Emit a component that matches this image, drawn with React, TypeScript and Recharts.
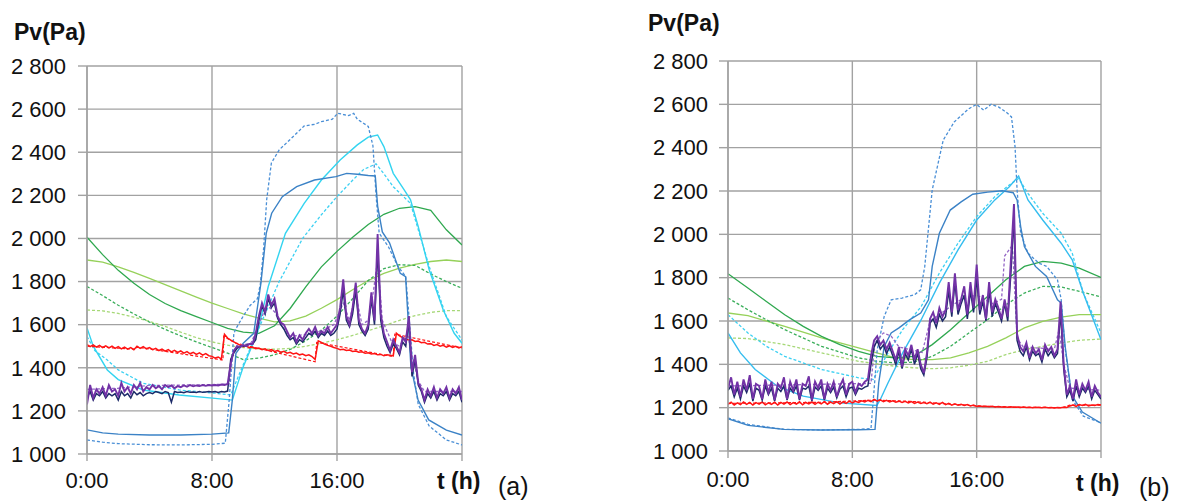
import { LineChart, Line, XAxis, YAxis, CartesianGrid } from "recharts";

type Pt = [number, number];

// logged series are sampled every 0.2 h, 0:00 -> 24:00 (121 values)
const STEP = 0.2;
const X_TICKS = [0, 8, 16, 24];
const Y_TICKS = [1000, 1200, 1400, 1600, 1800, 2000, 2200, 2400, 2600, 2800];

// ---------- panel (a) ----------
const A_BLUE_DASH: Pt[] = [[0,1065],[1,1055],[2,1048],[4,1043],[6,1042],[8,1045],[8.85,1050],[9.1,1250],[9.4,1560],[9.6,1590],[10,1640],[10.45,1690],[10.9,1720],[11.1,1790],[11.3,1950],[11.5,2180],[11.8,2350],[12.3,2411],[13.2,2473],[13.9,2522],[14.6,2530],[15,2542],[15.7,2553],[16.05,2581],[16.4,2575],[16.75,2570],[17.07,2580],[17.3,2553],[18,2520],[18.3,2430],[18.5,2200],[18.7,2024],[19.3,1960],[19.9,1870],[20.4,1823],[20.65,1600],[20.9,1374],[21.2,1230],[21.9,1130],[23,1065],[24,1042]];
const A_BLUE: Pt[] = [[0,1112],[1,1098],[2,1092],[4,1088],[6,1088],[8,1092],[9.07,1098],[9.3,1250],[9.53,1467],[10,1514],[10.67,1560],[11.13,1792],[11.47,2024],[11.82,2117],[12.5,2194],[13.42,2240],[14.56,2271],[15.93,2287],[16.62,2302],[17.3,2298],[18,2292],[18.45,2290],[18.6,2150],[18.9,2030],[19.36,1980],[20.05,1838],[20.39,1823],[20.73,1405],[21.19,1250],[21.87,1158],[23,1111],[24,1088]];
const A_CYAN: Pt[] = [[0,1585],[0.4,1500],[1.3,1390],[2,1345],[3.6,1297],[5.9,1274],[8.2,1258],[9.3,1250],[10,1405],[10.9,1560],[11.6,1777],[12.7,2024],[13.9,2163],[15,2271],[16.2,2364],[17.3,2434],[18,2470],[18.6,2480],[19,2426],[19.6,2302],[20.3,2225],[20.7,2180],[21.2,2055],[21.9,1854],[22.8,1668],[23.5,1560],[24,1514]];
const A_CYAN_DASH: Pt[] = [[0,1545],[0.5,1480],[1.3,1436],[2,1390],[3.6,1328],[5.9,1297],[8.2,1282],[9.2,1274],[9.8,1380],[10.5,1500],[11.4,1650],[12.3,1800],[13.8,2000],[15,2110],[16,2194],[17,2270],[17.7,2320],[18.5,2346],[19,2300],[19.6,2240],[20.7,2163],[21.9,1870],[23,1637],[24,1529]];
const A_GREEN: Pt[] = [[0,2006],[1,1925],[2,1852],[3,1792],[4,1740],[5,1698],[6,1665],[7,1637],[8,1610],[9,1583],[10,1565],[11,1560],[12,1595],[13,1675],[14,1775],[15,1868],[16,1940],[17,2005],[18,2065],[19,2112],[20,2140],[21,2148],[22,2130],[23,2040],[24,1970]];
const A_GREEN_DASH: Pt[] = [[0,1777],[1,1735],[2,1690],[3,1650],[4,1612],[5,1578],[6,1548],[7,1520],[8,1494],[9,1468],[10,1438],[11,1445],[12,1460],[13,1485],[14,1525],[15,1575],[16,1640],[17,1720],[18,1805],[19,1860],[20,1878],[21,1875],[22,1835],[23,1800],[24,1769]];
const A_LIGHT: Pt[] = [[0,1900],[1,1890],[2,1868],[3,1843],[4,1815],[5,1786],[6,1757],[7,1728],[8,1700],[9,1675],[10,1650],[11,1630],[12,1613],[13,1618],[14,1640],[15,1676],[16,1716],[17,1762],[18,1805],[19,1838],[20,1862],[21,1880],[22,1893],[23,1900],[24,1893]];
const A_LIGHT_DASH: Pt[] = [[0,1668],[1,1664],[2,1652],[3,1635],[4,1615],[5,1592],[6,1565],[7,1540],[8,1520],[9,1505],[10,1494],[11,1488],[12,1486],[13,1490],[14,1500],[15,1514],[16,1530],[17,1550],[18,1572],[19,1595],[20,1620],[21,1642],[22,1657],[23,1665],[24,1665]];
const A_RED_DASH: Pt[] = [[0,1500],[3.1,1486],[3.2,1496],[8.7,1436],[8.75,1546],[9.5,1515],[14.6,1428],[14.7,1518],[19.6,1452],[19.7,1556],[24,1492]];
const A_PURPLE_SIM: Pt[] = [[0,1300],[2,1305],[4,1318],[6,1320],[8,1322],[9.1,1325],[9.3,1460],[9.6,1500],[10.5,1515],[11,1600],[11.5,1690],[12,1660],[12.5,1590],[13,1545],[14,1555],[15,1570],[15.8,1600],[16.4,1700],[16.8,1620],[17.2,1740],[17.6,1600],[18,1620],[18.3,1740],[18.6,1900],[18.9,1620],[19.5,1520],[20,1500],[20.5,1560],[20.8,1460],[21.2,1340],[21.6,1290],[24,1290]];

const A_RED = [
  1508,1498,1506,1496,1504,1494,1502,1492,1500,1490,
  1498,1488,1496,1486,1494,1484,1500,1490,1498,1488,
  1494,1484,1490,1480,1487,1477,1484,1474,1481,1471,
  1478,1468,1475,1465,1472,1462,1469,1459,1466,1456,
  1453,1445,1450,1440,1555,1538,1528,1520,1512,1505,
  1498,1502,1492,1496,1488,1492,1484,1488,1480,1484,
  1476,1480,1472,1476,1468,1472,1464,1468,1460,1464,
  1456,1460,1452,1438,1525,1518,1510,1504,1500,1494,
  1490,1484,1486,1480,1482,1476,1478,1472,1474,1468,
  1470,1464,1466,1460,1462,1456,1460,1458,1455,1560,
  1548,1540,1534,1528,1530,1522,1524,1516,1518,1510,
  1512,1504,1508,1500,1504,1496,1502,1494,1500,1492,
  1498,
];
const A_NAVY = [
  1260,1290,1250,1280,1270,1290,1260,1280,1270,1280,
  1250,1290,1270,1280,1260,1290,1275,1285,1270,1280,
  1285,1280,1290,1285,1280,1290,1285,1240,1290,1285,
  1288,1284,1290,1286,1288,1285,1290,1286,1288,1290,
  1288,1290,1286,1290,1288,1292,1440,1470,1490,1500,
  1500,1505,1510,1510,1530,1620,1690,1650,1720,1680,
  1700,1630,1600,1580,1550,1530,1540,1510,1530,1520,
  1540,1560,1550,1570,1540,1560,1550,1570,1550,1560,
  1580,1650,1760,1620,1590,1650,1760,1600,1570,1550,
  1580,1720,1600,1950,1620,1540,1500,1470,1510,1490,
  1460,1520,1500,1620,1360,1440,1320,1290,1240,1280,
  1260,1290,1250,1280,1270,1290,1250,1280,1270,1290,
  1240,
];
const A_PURPLE = [
  1230,1320,1260,1300,1280,1310,1270,1320,1290,1300,
  1270,1330,1290,1310,1280,1320,1300,1330,1290,1310,
  1300,1320,1305,1315,1300,1320,1310,1318,1305,1315,
  1310,1318,1312,1320,1314,1318,1315,1320,1316,1320,
  1318,1320,1318,1322,1320,1325,1420,1480,1500,1495,
  1505,1500,1510,1510,1560,1640,1700,1660,1740,1690,
  1720,1640,1610,1600,1570,1540,1560,1520,1550,1530,
  1560,1580,1560,1590,1550,1570,1560,1590,1560,1580,
  1600,1680,1810,1640,1600,1680,1795,1620,1580,1560,
  1600,1750,1620,2020,1650,1560,1520,1480,1530,1500,
  1470,1540,1520,1640,1380,1460,1330,1300,1250,1300,
  1270,1310,1260,1300,1280,1310,1260,1300,1280,1310,
  1250,
];

// ---------- panel (b) ----------
const B_BLUE_DASH: Pt[] = [[0,1153],[1.3,1123],[3.6,1100],[6,1097],[8.4,1100],[9.2,1103],[9.35,1238],[9.6,1468],[10.05,1621],[10.5,1698],[11.2,1706],[12,1721],[12.4,1744],[12.66,1852],[13.14,2205],[13.85,2435],[14.56,2519],[15.5,2580],[16,2600],[16.45,2573],[16.93,2600],[17.4,2588],[17.88,2565],[18.24,2542],[18.47,2404],[18.6,2205],[18.83,2005],[19.3,1913],[20,1867],[20.5,1852],[21.2,1790],[21.44,1698],[21.67,1483],[22.15,1238],[22.86,1161],[24,1130]];
const B_BLUE: Pt[] = [[0,1149],[1.3,1118],[3.6,1100],[6,1097],[8.4,1098],[9.46,1100],[9.7,1315],[10.05,1483],[10.5,1545],[11,1568],[11.7,1606],[12.4,1637],[12.9,1698],[13.14,1852],[13.6,2005],[14.3,2112],[15,2150],[15.75,2185],[16.7,2195],[17.64,2201],[18.35,2192],[18.6,2159],[18.83,2036],[19.07,1944],[19.78,1852],[20.5,1806],[21.2,1698],[21.44,1683],[21.7,1480],[22.1,1260],[22.8,1180],[24,1128]];
const B_CYAN: Pt[] = [[0,1545],[0.8,1453],[1.75,1376],[3.18,1299],[4.84,1253],[7.2,1222],[9.58,1210],[9.8,1238],[10.3,1315],[11.24,1453],[12.43,1606],[13.6,1775],[14.8,1928],[16,2066],[17.17,2159],[18.1,2220],[18.7,2269],[19.3,2159],[20.25,2066],[21.44,1959],[22.15,1882],[22.86,1729],[24,1514]];
const B_CYAN_DASH: Pt[] = [[0,1629],[1.28,1545],[2.47,1483],[3.65,1437],[6.02,1376],[8.4,1338],[9.34,1330],[10.3,1453],[11.24,1560],[12.43,1667],[13.6,1821],[14.8,1959],[16,2082],[17.17,2174],[18.1,2228],[18.7,2258],[19.3,2189],[20.25,2097],[21.44,2005],[22.15,1913],[22.86,1729],[24,1545]];
const B_GREEN: Pt[] = [[0,1818],[1.28,1752],[2.47,1690],[3.65,1629],[4.84,1575],[6.02,1529],[7.2,1491],[8.4,1460],[9.58,1437],[10.77,1430],[11.95,1437],[13.14,1491],[14.32,1560],[15.5,1637],[16.7,1713],[17.88,1790],[19.07,1852],[20.25,1875],[21.44,1867],[22.6,1844],[24,1801]];
const B_GREEN_DASH: Pt[] = [[0,1706],[1.28,1652],[3.65,1560],[6.02,1483],[8.4,1430],[9.58,1414],[10.77,1407],[11.95,1410],[13.14,1437],[14.32,1483],[15.5,1545],[16.7,1606],[17.88,1675],[19.07,1729],[20.25,1760],[21.44,1757],[22.6,1737],[24,1711]];
const B_LIGHT: Pt[] = [[0,1637],[1.28,1625],[3.65,1575],[6.02,1522],[8.4,1476],[9.58,1453],[10.77,1430],[11.95,1422],[13.14,1422],[14.32,1430],[15.5,1453],[16.7,1483],[17.88,1522],[19.07,1568],[20.25,1598],[21.44,1618],[22.6,1629],[24,1629]];
const B_LIGHT_DASH: Pt[] = [[0,1522],[1.28,1519],[3.65,1491],[6.02,1453],[8.4,1414],[10.77,1391],[11.95,1384],[13.14,1380],[14.32,1384],[15.5,1396],[16.7,1414],[17.88,1445],[19.07,1468],[20.25,1483],[21.44,1499],[22.6,1511],[24,1517]];
const B_RED_DASH: Pt[] = [[0,1220],[3,1222],[6,1225],[9.5,1235],[12,1228],[14,1218],[16,1208],[18,1203],[21.5,1200],[22,1212],[24,1212]];
const B_PURPLE_SIM: Pt[] = [[0,1300],[9.2,1312],[9.45,1500],[10,1545],[10.5,1530],[11,1480],[12.5,1455],[13,1600],[14,1650],[15,1700],[16,1720],[17,1680],[17.6,1700],[17.8,1900],[18.3,1950],[18.6,1520],[19,1480],[21,1470],[21.3,1560],[21.6,1400],[22,1290],[24,1280]];

const B_RED = [
  1215,1225,1212,1222,1214,1226,1215,1224,1212,1223,
  1216,1226,1213,1222,1215,1225,1212,1224,1216,1226,
  1214,1223,1216,1227,1213,1224,1217,1226,1215,1225,
  1218,1228,1216,1226,1219,1228,1217,1227,1220,1230,
  1222,1229,1224,1232,1226,1234,1228,1238,1230,1236,
  1228,1234,1226,1232,1225,1230,1224,1229,1222,1228,
  1220,1226,1219,1224,1218,1226,1216,1222,1215,1224,
  1214,1220,1212,1218,1211,1216,1210,1214,1208,1212,
  1206,1208,1205,1207,1204,1206,1203,1205,1203,1204,
  1202,1204,1202,1203,1201,1203,1201,1202,1200,1202,
  1201,1200,1202,1200,1201,1199,1201,1200,1202,1201,
  1208,1212,1206,1214,1210,1215,1208,1212,1210,1214,
  1212,
];
const B_NAVY = [
  1280,1300,1250,1290,1240,1300,1270,1310,1230,1290,
  1280,1235,1300,1260,1290,1230,1290,1275,1300,1235,
  1290,1270,1300,1235,1290,1285,1300,1230,1295,1280,
  1300,1235,1290,1270,1295,1245,1285,1300,1250,1290,
  1295,1260,1290,1285,1295,1300,1400,1480,1510,1470,
  1490,1450,1480,1440,1400,1460,1380,1450,1420,1470,
  1400,1450,1380,1350,1430,1590,1610,1570,1630,1600,
  1620,1740,1620,1780,1630,1680,1720,1610,1740,1640,
  1800,1630,1690,1600,1740,1620,1680,1640,1600,1680,
  1600,1820,2080,1510,1460,1440,1480,1420,1460,1440,
  1450,1410,1470,1440,1460,1430,1450,1640,1380,1250,
  1280,1230,1300,1250,1290,1270,1300,1240,1280,1260,
  1240,
];
const B_PURPLE = [
  1290,1340,1260,1320,1250,1330,1280,1350,1240,1310,
  1300,1240,1330,1270,1320,1235,1310,1290,1340,1240,
  1320,1280,1330,1240,1310,1300,1345,1235,1320,1290,
  1330,1240,1310,1280,1320,1250,1300,1330,1260,1310,
  1320,1270,1310,1300,1320,1330,1440,1510,1530,1490,
  1510,1470,1500,1460,1420,1480,1390,1470,1440,1490,
  1420,1470,1400,1360,1450,1610,1640,1590,1660,1620,
  1650,1780,1640,1820,1650,1700,1760,1630,1780,1660,
  1860,1650,1720,1610,1780,1640,1700,1660,1610,1700,
  1620,1880,2140,1540,1480,1460,1500,1430,1480,1450,
  1470,1420,1490,1460,1480,1440,1470,1690,1400,1260,
  1300,1240,1330,1260,1310,1280,1320,1250,1300,1270,
  1250,
];

const FONT = "'Liberation Sans', Arial, sans-serif";
const GRID = "#a2a2a2";

const BLUE_DASH = "#4a8fd6";
const BLUE = "#3b82c6";
const CYAN = "#33d4f0";
const CYAN_DASH = "#3cd0f2";
const GREEN = "#2fa84f";
const GREEN_DASH = "#3aae5a";
const LIGHT = "#96d15a";
const LIGHT_DASH = "#a6d877";
const RED = "#ff1414";
const NAVY = "#1c2a68";
const PURPLE = "#7232a6";
const PURPLE_SIM = "#9466c6";

const pairs = (pts: Pt[]) => pts.map(([t, v]) => ({ t, v }));
const logged = (vals: number[]) => vals.map((v, i) => ({ t: Math.round(i * STEP * 10) / 10, v }));

const fmtPa = (v: number) => `${Math.floor(v / 1000)} ${String(v % 1000).padStart(3, "0")}`;
const fmtHour = (t: number) => (t === 24 ? "" : `${t}:00`);

interface Series {
  name: string;
  data: { t: number; v: number }[];
  color: string;
  width: number;
  dash?: string;
}

const seriesA: Series[] = [
  { name: "aLightDash", data: pairs(A_LIGHT_DASH), color: LIGHT_DASH, width: 1.3, dash: "3 2" },
  { name: "aLight", data: pairs(A_LIGHT), color: LIGHT, width: 1.3 },
  { name: "aGreenDash", data: pairs(A_GREEN_DASH), color: GREEN_DASH, width: 1.3, dash: "3 2" },
  { name: "aGreen", data: pairs(A_GREEN), color: GREEN, width: 1.3 },
  { name: "aCyanDash", data: pairs(A_CYAN_DASH), color: CYAN_DASH, width: 1.3, dash: "3 2" },
  { name: "aCyan", data: pairs(A_CYAN), color: CYAN, width: 1.4 },
  { name: "aBlueDash", data: pairs(A_BLUE_DASH), color: BLUE_DASH, width: 1.3, dash: "3 2" },
  { name: "aBlue", data: pairs(A_BLUE), color: BLUE, width: 1.4 },
  { name: "aRedDash", data: pairs(A_RED_DASH), color: RED, width: 1.2, dash: "3 2" },
  { name: "aRed", data: logged(A_RED), color: RED, width: 1.5 },
  { name: "aPurpleSim", data: pairs(A_PURPLE_SIM), color: PURPLE_SIM, width: 1.3, dash: "3 2" },
  { name: "aNavy", data: logged(A_NAVY), color: NAVY, width: 1.5 },
  { name: "aPurple", data: logged(A_PURPLE), color: PURPLE, width: 1.9 },
];

const seriesB: Series[] = [
  { name: "bLightDash", data: pairs(B_LIGHT_DASH), color: LIGHT_DASH, width: 1.3, dash: "3 2" },
  { name: "bLight", data: pairs(B_LIGHT), color: LIGHT, width: 1.3 },
  { name: "bGreenDash", data: pairs(B_GREEN_DASH), color: GREEN_DASH, width: 1.3, dash: "3 2" },
  { name: "bGreen", data: pairs(B_GREEN), color: GREEN, width: 1.3 },
  { name: "bCyanDash", data: pairs(B_CYAN_DASH), color: CYAN_DASH, width: 1.3, dash: "3 2" },
  { name: "bCyan", data: pairs(B_CYAN), color: "#35bdef", width: 1.4 },
  { name: "bBlueDash", data: pairs(B_BLUE_DASH), color: BLUE_DASH, width: 1.3, dash: "3 2" },
  { name: "bBlue", data: pairs(B_BLUE), color: BLUE, width: 1.4 },
  { name: "bRedDash", data: pairs(B_RED_DASH), color: RED, width: 1.2, dash: "3 2" },
  { name: "bRed", data: logged(B_RED), color: RED, width: 1.5 },
  { name: "bPurpleSim", data: pairs(B_PURPLE_SIM), color: PURPLE_SIM, width: 1.3, dash: "3 2" },
  { name: "bNavy", data: logged(B_NAVY), color: NAVY, width: 1.5 },
  { name: "bPurple", data: logged(B_PURPLE), color: PURPLE, width: 1.9 },
];

interface PanelProps {
  left: number;
  width: number;
  margin: { top: number; right: number; bottom: number; left: number };
  yTickMargin: number;
  xTickMargin: number;
  series: Series[];
}

function Panel({ left, width, margin, yTickMargin, xTickMargin, series }: PanelProps) {
  const tick = { fill: "#111", fontSize: 22, fontFamily: FONT };
  return (
    <div style={{ position: "absolute", left, top: 0 }}>
      <LineChart width={width} height={503} margin={margin}>
        <CartesianGrid stroke={GRID} strokeWidth={1.4} />
        <XAxis
          dataKey="t"
          type="number"
          domain={[0, 24]}
          ticks={X_TICKS}
          interval={0}
          allowDataOverflow
          tickFormatter={fmtHour}
          height={30}
          tickSize={7}
          tickMargin={xTickMargin}
          axisLine={{ stroke: GRID, strokeWidth: 1.4 }}
          tickLine={{ stroke: GRID, strokeWidth: 1.4 }}
          tick={tick}
        />
        <YAxis
          type="number"
          domain={[1000, 2800]}
          ticks={Y_TICKS}
          interval={0}
          allowDataOverflow
          tickFormatter={fmtPa}
          width={60}
          tickSize={9}
          tickMargin={yTickMargin}
          axisLine={{ stroke: GRID, strokeWidth: 1.4 }}
          tickLine={{ stroke: GRID, strokeWidth: 1.4 }}
          tick={tick}
        />
        {series.map((s) => (
          <Line
            key={s.name}
            name={s.name}
            data={s.data}
            dataKey="v"
            type="linear"
            stroke={s.color}
            strokeWidth={s.width}
            strokeDasharray={s.dash}
            dot={false}
            activeDot={false}
            isAnimationActive={false}
          />
        ))}
      </LineChart>
    </div>
  );
}

export default function App() {
  const bold = { fontFamily: FONT, fontSize: 23, fontWeight: 700, fill: "#111" };
  const plain = { fontFamily: FONT, fontSize: 25, fill: "#111" };
  return (
    <div style={{ position: "absolute", left: 0, top: 0, width: 1179, height: 503, background: "#fff" }}>
      <Panel
        left={0}
        width={540}
        margin={{ top: 66, right: 78, bottom: 19, left: 27 }}
        yTickMargin={12}
        xTickMargin={11}
        series={seriesA}
      />
      <Panel
        left={600}
        width={560}
        margin={{ top: 61, right: 59, bottom: 22, left: 68 }}
        yTickMargin={11}
        xTickMargin={13}
        series={seriesB}
      />
      <svg width={1179} height={503} style={{ position: "absolute", left: 0, top: 0, pointerEvents: "none" }}>
        <text x={14} y={40} {...bold}>Pv(Pa)</text>
        <text x={437} y={489} {...bold}>t (h)</text>
        <text x={498} y={495} {...plain}>(a)</text>
        <text x={648} y={31} {...bold}>Pv(Pa)</text>
        <text x={1076} y={491} {...bold}>t (h)</text>
        <text x={1139} y={496} {...plain}>(b)</text>
      </svg>
    </div>
  );
}
